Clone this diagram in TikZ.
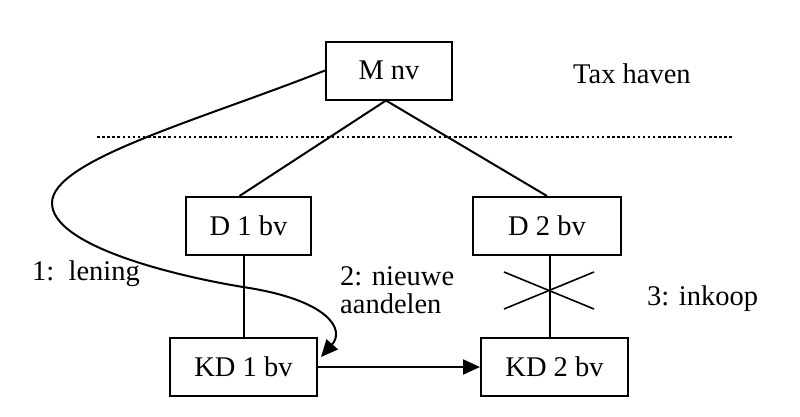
\documentclass[tikz,border=0pt]{standalone}
\usepackage{fontspec}
\setmainfont{Liberation Serif}
\usetikzlibrary{calc,arrows.meta}
\begin{document}
\begin{tikzpicture}[x=1pt,y=-1pt,
  every node/.style={font=\fontsize{28.5}{30}\selectfont},
  box/.style={draw,line width=2pt,inner sep=0pt,minimum height=58pt},
  conn/.style={line width=2pt},
  lbl/.style={inner sep=0pt}]
\useasboundingbox (0,0) rectangle (800,416);
\node[box,minimum width=126pt] (M) at (389,70.5) {M nv};
\node[box,minimum width=125pt] (D1) at (248.5,226) {D 1 bv};
\node[box,minimum width=148pt] (D2) at (547,226) {D 2 bv};
\node[box,minimum width=147pt] (KD1) at (243.5,367) {KD 1 bv};
\node[box,minimum width=147pt] (KD2) at (554.5,367) {KD 2 bv};
\node[lbl,anchor=base west] (tax) at (573,83) {Tax haven};
\node[lbl,anchor=base west] (l1) at (32,280) {1:\ \ lening};
\node[lbl,anchor=base west] (l2a) at (340,285) {2: nieuwe};
\node[lbl,anchor=base west] (l2b) at (340,313) {aandelen};
\node[lbl,anchor=base west] (l3) at (647,305) {3: inkoop};
\coordinate (dotL) at (97,137);
\coordinate (dotR) at (734,137);
\draw[conn,dash pattern=on 2.5pt off 2.6pt] (dotL) -- (dotR);
\draw[conn] ($(M.south)+(-3,0)$) -- ($(D1.north)+(-9,0)$);
\draw[conn] ($(M.south)+(-3,0)$) -- (D2.north);
\draw[conn] (KD1.north) -- (KD1.north |- D1.south);
\draw[conn] ($(D2.south)+(3,0)$) -- ($(D2.south |- KD2.north)+(3,0)$);
\coordinate (X) at (549,290);
\draw[conn,line width=1.6pt] ($(X)+(-45,-18)$) -- ($(X)+(45,19)$);
\draw[conn,line width=1.6pt] ($(X)+(-45,19)$) -- ($(X)+(45,-18)$);
\draw[conn,-{Triangle[length=17pt,width=15pt]}] (KD1.east) -- (KD2.west);
\coordinate (tip) at ($(KD1.east)+(3,-10)$);
\draw[conn,-{Triangle[length=17pt,width=15pt]}] (M.west)
  .. controls (200,120) and (52,160) .. (52,203)
  .. controls (52,245) and (170,275) .. (243,287)
  .. controls (330,300) and (345,330) .. (tip);
\end{tikzpicture}
\end{document}
